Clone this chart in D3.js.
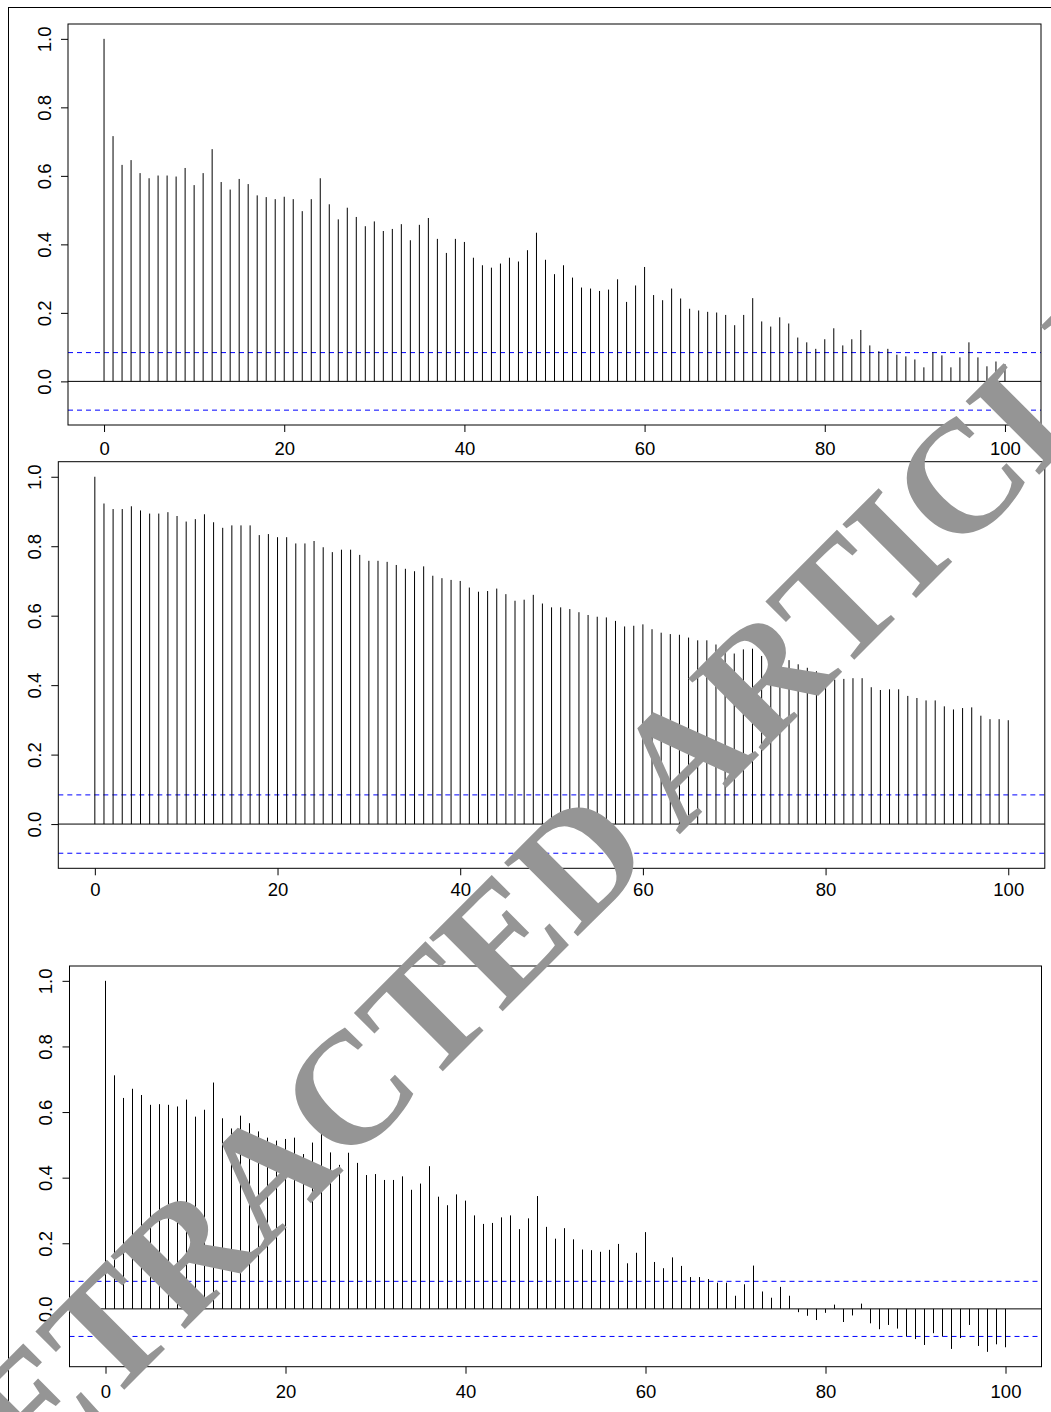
<!DOCTYPE html>
<html>
<head>
<meta charset="utf-8">
<script src="https://cdn.jsdelivr.net/npm/d3@7"></script>
<style>
  html, body { margin: 0; padding: 0; background: #fff; }
  svg { display: block; }
</style>
</head>
<body>
<svg id="chart" width="1051" height="1412"></svg>
<script>
// ---------------- DATA ----------------
const lags = d3.range(0, 101);
const yTicks = [0, 0.2, 0.4, 0.6, 0.8, 1.0];
const xTicks = [0, 20, 40, 60, 80, 100];
const confLimit = 0.084;

const acf1 = [1.0, 0.716, 0.632, 0.646, 0.608, 0.593, 0.601, 0.601, 0.598, 0.623,
  0.573, 0.608, 0.678, 0.582, 0.560, 0.591, 0.576, 0.543, 0.538, 0.532,
  0.539, 0.532, 0.497, 0.532, 0.593, 0.517, 0.473, 0.507, 0.480, 0.453,
  0.467, 0.439, 0.445, 0.459, 0.412, 0.457, 0.477, 0.416, 0.375, 0.416,
  0.407, 0.361, 0.339, 0.332, 0.344, 0.361, 0.350, 0.383, 0.434, 0.355,
  0.313, 0.339, 0.303, 0.274, 0.271, 0.264, 0.268, 0.298, 0.232, 0.280,
  0.334, 0.252, 0.237, 0.271, 0.242, 0.212, 0.207, 0.203, 0.201, 0.194,
  0.164, 0.194, 0.243, 0.175, 0.160, 0.187, 0.169, 0.128, 0.114, 0.095,
  0.123, 0.155, 0.105, 0.123, 0.150, 0.105, 0.088, 0.095, 0.078, 0.073,
  0.064, 0.041, 0.085, 0.076, 0.041, 0.070, 0.114, 0.070, 0.044, 0.058,
  0.050];

const acf2 = [1.0, 0.923, 0.907, 0.907, 0.915, 0.903, 0.894, 0.894, 0.898, 0.887,
  0.871, 0.878, 0.892, 0.869, 0.853, 0.860, 0.860, 0.860, 0.832, 0.835,
  0.826, 0.826, 0.808, 0.808, 0.815, 0.797, 0.783, 0.790, 0.790, 0.775,
  0.758, 0.758, 0.755, 0.746, 0.735, 0.728, 0.742, 0.715, 0.708, 0.703,
  0.700, 0.681, 0.669, 0.671, 0.678, 0.662, 0.643, 0.646, 0.660, 0.635,
  0.624, 0.624, 0.619, 0.610, 0.602, 0.597, 0.595, 0.585, 0.569, 0.571,
  0.575, 0.561, 0.551, 0.547, 0.545, 0.537, 0.529, 0.529, 0.517, 0.505,
  0.491, 0.503, 0.505, 0.484, 0.478, 0.475, 0.472, 0.460, 0.450, 0.440,
  0.430, 0.416, 0.418, 0.420, 0.420, 0.394, 0.386, 0.388, 0.388, 0.369,
  0.363, 0.356, 0.356, 0.339, 0.330, 0.334, 0.336, 0.312, 0.302, 0.302,
  0.299];

const acf3 = [1.0, 0.712, 0.643, 0.671, 0.652, 0.622, 0.624, 0.622, 0.617, 0.638,
  0.586, 0.607, 0.690, 0.581, 0.550, 0.589, 0.566, 0.541, 0.522, 0.513,
  0.518, 0.522, 0.472, 0.507, 0.560, 0.477, 0.439, 0.476, 0.445, 0.408,
  0.411, 0.393, 0.393, 0.404, 0.363, 0.382, 0.435, 0.342, 0.316, 0.349,
  0.330, 0.285, 0.259, 0.262, 0.279, 0.285, 0.243, 0.276, 0.344, 0.250,
  0.214, 0.246, 0.212, 0.181, 0.179, 0.174, 0.180, 0.198, 0.139, 0.171,
  0.234, 0.143, 0.124, 0.157, 0.131, 0.097, 0.097, 0.091, 0.080, 0.080,
  0.040, 0.075, 0.132, 0.053, 0.034, 0.067, 0.040, -0.010, -0.021, -0.034,
  -0.012, 0.013, -0.040, -0.020, 0.016, -0.044, -0.062, -0.049, -0.060, -0.084,
  -0.092, -0.110, -0.074, -0.084, -0.122, -0.089, -0.049, -0.113, -0.131, -0.108,
  -0.117];

const watermarkText = "RETRACTED ARTICLE";

// ---------------- LAYOUT ----------------
const panels = [
  { values: acf1, left: 68,   right: 1041,   top: 24,    bottom: 425,    labelOff: 23.5, xPad: 9.7 },
  { values: acf2, left: 58.3, right: 1044.8, top: 461.7, bottom: 868.3,  labelOff: 23.5, xPad: 8 },
  { values: acf3, left: 69.5, right: 1041.5, top: 966,   bottom: 1366.7, labelOff: 24,   xPad: 11.3 }
];

const FONT = "'Liberation Sans', Arial, Helvetica, sans-serif";
const FS = 18.5;

const svg = d3.select("#chart");

// outer frame (top and left edges visible)
svg.append("line").attr("x1", 8).attr("x2", 1051).attr("y1", 7.5).attr("y2", 7.5)
  .attr("stroke", "#000").attr("stroke-width", 1);
svg.append("line").attr("x1", 8.5).attr("x2", 8.5).attr("y1", 7).attr("y2", 1412)
  .attr("stroke", "#000").attr("stroke-width", 1);

panels.forEach(p => {
  const vals = p.values;
  const lo = Math.min(d3.min(vals), -confLimit);
  const hi = Math.max(d3.max(vals), confLimit);
  const ext = (hi - lo) * 0.04;
  const x = d3.scaleLinear().domain([-4, 104]).range([p.left, p.right]);
  const y = d3.scaleLinear().domain([lo - ext, hi + ext]).range([p.bottom, p.top]);

  const g = svg.append("g");

  // zero line
  g.append("line")
    .attr("x1", p.left).attr("x2", p.right)
    .attr("y1", y(0)).attr("y2", y(0))
    .attr("stroke", "#000").attr("stroke-width", 1);

  // confidence limits
  [confLimit, -confLimit].forEach(c => {
    g.append("line")
      .attr("x1", p.left).attr("x2", p.right)
      .attr("y1", y(c)).attr("y2", y(c))
      .attr("stroke", "#0000ff").attr("stroke-width", 1)
      .attr("stroke-dasharray", "5,4");
  });

  // spikes
  g.selectAll("line.spike")
    .data(lags.map((l, i) => ({ lag: l, v: vals[i] })))
    .join("line")
    .attr("class", "spike")
    .attr("x1", d => x(d.lag)).attr("x2", d => x(d.lag))
    .attr("y1", y(0)).attr("y2", d => y(d.v))
    .attr("stroke", "#000").attr("stroke-width", 1);

  // box
  g.append("rect")
    .attr("x", p.left).attr("y", p.top)
    .attr("width", p.right - p.left).attr("height", p.bottom - p.top)
    .attr("fill", "none").attr("stroke", "#000").attr("stroke-width", 1);

  // x axis
  const xa = g.append("g")
    .attr("transform", `translate(0,${p.bottom})`)
    .call(d3.axisBottom(x).tickValues(xTicks).tickFormat(d3.format("d"))
      .tickSize(7).tickPadding(p.xPad));
  xa.select(".domain").remove();
  xa.selectAll("line").attr("stroke", "#000");
  xa.selectAll("text").attr("font-family", FONT).attr("font-size", FS).attr("fill", "#000");

  // y axis
  const ya = g.append("g")
    .attr("transform", `translate(${p.left},0)`)
    .call(d3.axisLeft(y).tickValues(yTicks).tickFormat(d3.format(".1f"))
      .tickSize(7));
  ya.select(".domain").remove();
  ya.selectAll("line").attr("stroke", "#000");
  ya.selectAll("text")
    .attr("x", null).attr("dy", null)
    .attr("transform", `translate(${-p.labelOff},0) rotate(-90)`)
    .attr("dy", "0.35em")
    .attr("text-anchor", "middle")
    .attr("font-family", FONT).attr("font-size", FS).attr("fill", "#000");
  svg.selectAll(".tick text").attr("font-family", FONT);
  g.selectAll(".tick").attr("font-family", FONT);
});

// watermark overlay
svg.append("text")
  .attr("transform", "translate(-49,1563) rotate(-45)")
  .attr("font-family", "'Liberation Serif', 'Times New Roman', Times, serif")
  .attr("font-weight", "bold")
  .attr("font-size", 159)
  .attr("fill", "#959595")
  .text(watermarkText);
</script>
</body>
</html>
